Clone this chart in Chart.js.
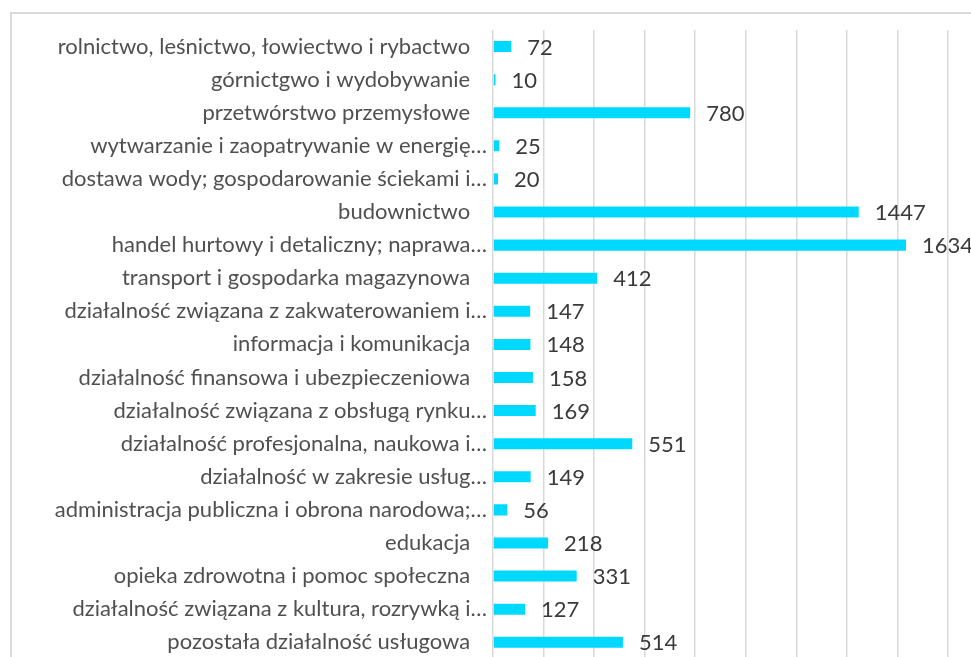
<!DOCTYPE html>
<html lang="pl">
<head>
<meta charset="utf-8">
<title>Podmioty według sekcji PKD</title>
<script src="https://cdn.jsdelivr.net/npm/chart.js@4/dist/chart.umd.min.js"></script>
<style>
    html, body { margin: 0; padding: 0; background: #fff; overflow: hidden; }
    #ramka {
        position: absolute; left: 10px; top: 12px; width: 1000px; height: 700px;
        border-top: 2px solid #d9d9d9; border-left: 2px solid #d9d9d9;
    }
    #kontener { position: absolute; left: 0; top: 0; width: 971px; height: 678px; }
</style>
</head>
<body>
<div id="ramka"></div>
<div id="kontener"><canvas id="wykresSekcje"></canvas></div>
<script>
const sekcje = [
    'rolnictwo, leśnictwo, łowiectwo i rybactwo',
    'górnictgwo i wydobywanie',
    'przetwórstwo przemysłowe',
    'wytwarzanie i zaopatrywanie w energię…',
    'dostawa wody; gospodarowanie ściekami i…',
    'budownictwo',
    'handel hurtowy i detaliczny; naprawa…',
    'transport i gospodarka magazynowa',
    'działalność związana z zakwaterowaniem i…',
    'informacja i komunikacja',
    'działalność finansowa i ubezpieczeniowa',
    'działalność związana z obsługą rynku…',
    'działalność profesjonalna, naukowa i…',
    'działalność w zakresie usług…',
    'administracja publiczna i obrona narodowa;…',
    'edukacja',
    'opieka zdrowotna i pomoc społeczna',
    'działalność związana z kultura, rozrywką i…',
    'pozostała działalność usługowa'
];
const wartosci = [72, 10, 780, 25, 20, 1447, 1634, 412, 147, 148, 158, 169, 551, 149, 56, 218, 331, 127, 514];
const osMin = 0;
const osMax = 1800;
const krok = 200;

Chart.defaults.font.family = 'Lato';

// etykiety z wartościami za końcem słupka
const etykietyWartosci = {
    id: 'etykietyWartosci',
    afterDatasetsDraw(chart) {
        const ctx = chart.ctx;
        ctx.save();
        ctx.font = '22px Lato';
        ctx.fillStyle = '#3a3a3a';
        ctx.textAlign = 'left';
        ctx.textBaseline = 'middle';
        chart.getDatasetMeta(0).data.forEach((bar, i) => {
            ctx.fillText(String(wartosci[i]), bar.x + 16, bar.y + 1);
        });
        ctx.restore();
    }
};

const ctx = document.getElementById('wykresSekcje').getContext('2d');
const wykres = new Chart(ctx, {
    type: 'bar',
    data: {
        labels: sekcje,
        datasets: [{
            data: wartosci,
            backgroundColor: '#00D9FF',
            borderWidth: 0,
            barPercentage: 0.333,
            categoryPercentage: 1
        }]
    },
    options: {
        indexAxis: 'y',
        responsive: true,
        maintainAspectRatio: false,
        animation: false,
        layout: { padding: { top: 30, right: 23, bottom: 0, left: 0 } },
        plugins: {
            legend: { display: false },
            tooltip: { enabled: false }
        },
        scales: {
            x: {
                min: osMin,
                max: osMax,
                afterFit: (scale) => { scale.height = 0; },
                ticks: { display: false, stepSize: krok },
                grid: { color: '#d9d9d9', lineWidth: 1.5, drawTicks: false },
                border: { display: false }
            },
            y: {
                afterFit: (scale) => { scale.width = 493; },
                grid: { display: false, drawTicks: false },
                border: { display: false },
                ticks: {
                    autoSkip: false,
                    padding: 6,
                    color: '#505050',
                    font: { size: 22 },
                    callback: (v, i) => sekcje[i].endsWith('…') ? sekcje[i] : sekcje[i] + '   '
                }
            }
        }
    },
    plugins: [etykietyWartosci]
});
</script>
</body>
</html>
